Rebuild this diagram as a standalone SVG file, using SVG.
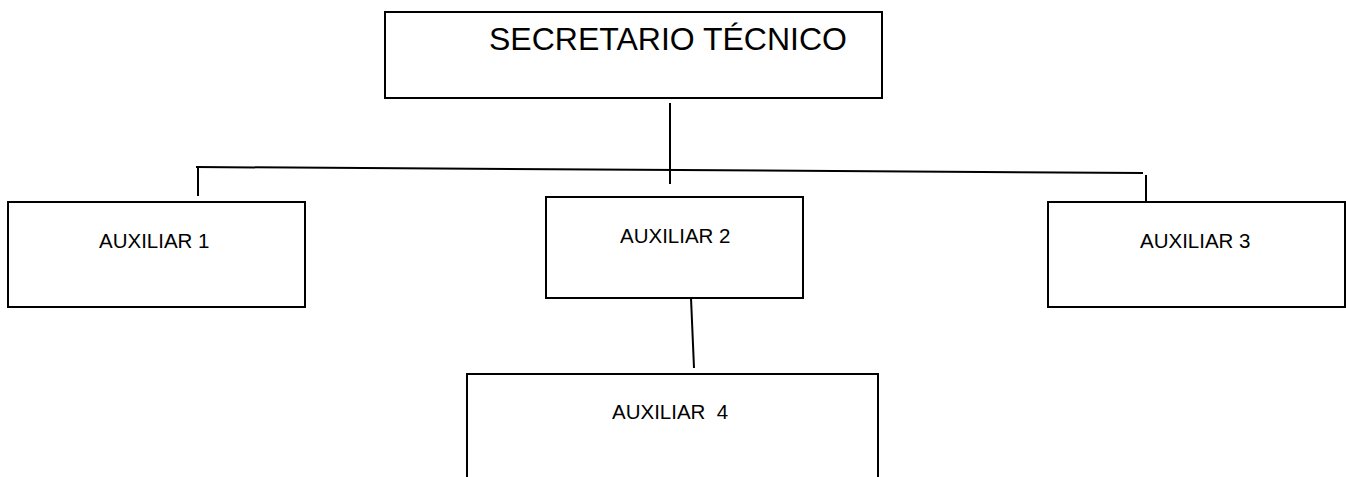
<svg xmlns="http://www.w3.org/2000/svg" width="1346" height="477" viewBox="0 0 1346 477">
<style>
.box{fill:#fff;stroke:#000;stroke-width:2}
.t{font-family:"Liberation Sans",Arial,sans-serif;fill:#000}
.s{font-size:20.5px}
.c{stroke:#000;stroke-width:2;fill:none}
</style>
<rect width="1346" height="477" fill="#fff"/>
<g id="connectors">
<line class="c" x1="670" y1="103" x2="670" y2="184"/>
<line class="c" x1="196" y1="167" x2="1143" y2="173"/>
<line class="c" x1="198" y1="167" x2="198" y2="196"/>
<line class="c" x1="1146" y1="175" x2="1146" y2="202"/>
<line class="c" x1="691" y1="298" x2="694" y2="368" stroke-width="1.4"/>
</g>
<g id="secretario">
<rect class="box" x="385" y="12" width="497" height="86"/>
<text class="t" x="489" y="50" font-size="31" textLength="358" lengthAdjust="spacingAndGlyphs">SECRETARIO TÉCNICO</text>
</g>
<g id="aux1">
<rect class="box" x="8" y="202" width="297" height="105"/>
<text class="t s" x="99" y="248">AUXILIAR 1</text>
</g>
<g id="aux2">
<rect class="box" x="546" y="197" width="257" height="101"/>
<text class="t s" x="620" y="243">AUXILIAR 2</text>
</g>
<g id="aux3">
<rect class="box" x="1048" y="202" width="297" height="105"/>
<text class="t s" x="1140" y="248">AUXILIAR 3</text>
</g>
<g id="aux4">
<rect class="box" x="467" y="374" width="411" height="110"/>
<text class="t s" x="612" y="419" xml:space="preserve">AUXILIAR  4</text>
</g>
</svg>
